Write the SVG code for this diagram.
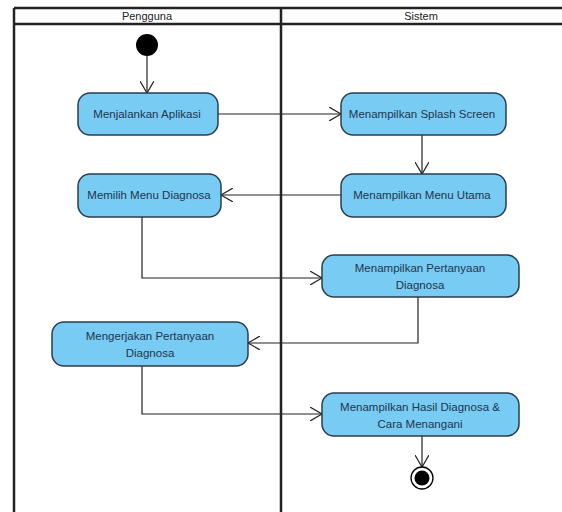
<svg xmlns="http://www.w3.org/2000/svg" width="562" height="512" viewBox="0 0 562 512">
<defs>
<style>
.lane{fill:none;stroke:#222;stroke-width:2.5}
.act rect{fill:#78cbf2;stroke:#2b3d4f;stroke-width:1.5}
.act text{font-family:"Liberation Sans",Arial,sans-serif;font-size:11.5px;fill:#1f3550;text-anchor:middle}
.hdr{font-family:"Liberation Sans",Arial,sans-serif;font-size:11px;fill:#222;text-anchor:middle}
.edge{fill:none;stroke:#222;stroke-width:1.2;marker-end:url(#open)}
</style>
<marker id="open" markerWidth="14" markerHeight="14" refX="12" refY="7" orient="auto" markerUnits="userSpaceOnUse">
<path d="M0,0 L12,7 L0,14" fill="none" stroke="#222" stroke-width="1.2"/>
</marker>
</defs>
<rect width="562" height="512" fill="#fff"/>
<g id="swimlanes">
<line class="lane" x1="14" y1="8" x2="562" y2="8"/>
<line class="lane" x1="14" y1="24" x2="562" y2="24"/>
<line class="lane" x1="14" y1="8" x2="14" y2="512"/>
<line class="lane" x1="281" y1="8" x2="281" y2="512"/>
<text class="hdr" x="147" y="20">Pengguna</text>
<text class="hdr" x="421" y="20">Sistem</text>
</g>
<g id="connectors">
<path class="edge" d="M147,56 V93"/>
<path class="edge" d="M218,114 H341"/>
<path class="edge" d="M422,135 V174"/>
<path class="edge" d="M341,195 H221"/>
<path class="edge" d="M142,216 V278 H322"/>
<path class="edge" d="M418,297 V343 H248"/>
<path class="edge" d="M142,366 V414 H322"/>
<path class="edge" d="M422,436 V467"/>
</g>
<g id="start"><circle cx="147" cy="45" r="11" fill="#000"/></g>
<g id="n1" class="act"><rect x="78" y="93" width="140" height="42" rx="12"/><text x="147" y="118">Menjalankan Aplikasi</text></g>
<g id="n2" class="act"><rect x="341" y="93" width="165" height="42" rx="12"/><text x="422" y="118">Menampilkan Splash Screen</text></g>
<g id="n3" class="act"><rect x="341" y="174" width="165" height="43" rx="12"/><text x="422" y="199">Menampilkan Menu Utama</text></g>
<g id="n4" class="act"><rect x="78" y="174" width="143" height="43" rx="12"/><text x="149" y="199">Memilih Menu Diagnosa</text></g>
<g id="n5" class="act"><rect x="322" y="255" width="197" height="42" rx="12"/><text x="420" y="272">Menampilkan Pertanyaan</text><text x="420" y="289">Diagnosa</text></g>
<g id="n6" class="act"><rect x="52" y="322" width="196" height="44" rx="12"/><text x="150" y="340">Mengerjakan Pertanyaan</text><text x="150" y="357">Diagnosa</text></g>
<g id="n7" class="act"><rect x="322" y="393" width="197" height="43" rx="12"/><text x="420" y="411">Menampilkan Hasil Diagnosa &amp;</text><text x="420" y="428">Cara Menangani</text></g>
<g id="end"><circle cx="422" cy="478" r="11" fill="#fff" stroke="#000" stroke-width="1.3"/><circle cx="422" cy="478" r="7.5" fill="#000"/></g>
</svg>
